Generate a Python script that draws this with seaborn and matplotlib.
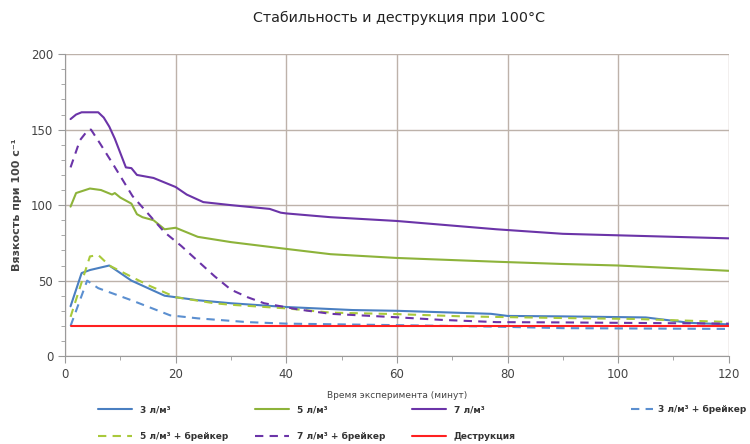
import matplotlib
matplotlib.use("Agg")
import matplotlib.pyplot as plt
from matplotlib.ticker import MultipleLocator
import pandas as pd
import seaborn as sns

# series values
x_3 = [1, 3, 4.5, 8, 12, 18, 24, 30, 40, 52, 60, 77, 80, 90, 105, 113, 120]
y_3 = [33, 55, 57, 60, 50, 40, 37, 35, 32.5, 30.5, 30, 28, 26.6, 26.3, 25.6, 22, 21]

x_5 = [1, 2, 4.5, 6.5, 8.5, 9, 10, 12, 13, 14, 16, 18, 20, 24, 30, 40, 48, 60, 78, 90, 100, 120]
y_5 = [99, 108, 111, 110, 107, 108, 105, 101, 94, 92, 90, 84, 85, 79, 75.5, 71, 67.5, 65, 62.5, 61, 60, 56.5]

x_7 = [1, 2, 3, 6, 7, 8, 9, 11, 12, 13, 16, 20, 22, 25, 30, 37, 39, 40, 48, 60, 78, 90, 100, 120]
y_7 = [157, 160, 161.5, 161.5, 158, 152, 144, 125, 124.5, 120, 118, 112, 107, 102, 100, 97.5, 95, 94.5, 92, 89.5, 84, 81, 80, 78]

x_3b = [1, 4, 6, 12, 19, 24, 33, 40, 60, 78, 90, 120]
y_3b = [20, 50, 45, 37, 27, 25, 22.5, 21.5, 20.5, 19.5, 18.5, 18]

x_5b = [1, 4.5, 6, 8, 15, 20, 27, 30, 40, 48, 60, 72, 90, 103, 120]
y_5b = [26, 66, 67, 60, 47, 39, 35, 34, 31.6, 28.8, 27.8, 26.3, 25.2, 24.6, 22.6]

x_7b = [1, 2.7, 4.2, 4.7, 6.3, 8.7, 12.2, 18, 21, 27, 30, 33, 36, 42, 48, 60, 68, 78, 90, 120]
y_7b = [125, 143, 150, 150, 141, 127, 106, 82, 73, 53, 44, 39, 35, 31, 28, 25.7, 24, 22.5, 22.3, 21.5]

x_destr = [1, 120]
y_destr = [20, 20]

labels = ["3 л/м³", "5 л/м³", "7 л/м³", "3 л/м³ + брейкер",
          "5 л/м³ + брейкер", "7 л/м³ + брейкер", "Деструкция"]

sns.set_style("white")
plt.rcParams["font.family"] = ["DejaVu Sans"]

series = [
    (x_3, y_3, "#4a7fc1", "-"),
    (x_5, y_5, "#8db33a", "-"),
    (x_7, y_7, "#6b34a8", "-"),
    (x_3b, y_3b, "#5b8fd0", (0, (4, 3))),
    (x_5b, y_5b, "#a9c93b", (0, (4, 3))),
    (x_7b, y_7b, "#6b34a8", (0, (4, 3))),
    (x_destr, y_destr, "#ff2020", "-"),
]

fig = plt.figure(figsize=(7.5, 4.44), dpi=100)
ax = fig.add_axes([0.0867, 0.198, 0.885, 0.68])

handles = []
for (xs, ys, color, ls), lab in zip(series, labels):
    df = pd.DataFrame({"x": xs, "y": ys})
    sns.lineplot(data=df, x="x", y="y", ax=ax, color=color, linewidth=1.5)
    line = ax.lines[-1]
    line.set_linestyle(ls)
    line.set_label(lab)
    handles.append(line)
if ax.get_legend() is not None:
    ax.get_legend().remove()

ax.set_xlim(0, 120)
ax.set_ylim(0, 200)
ax.xaxis.set_major_locator(MultipleLocator(20))
ax.xaxis.set_minor_locator(MultipleLocator(10))
ax.yaxis.set_major_locator(MultipleLocator(50))
ax.yaxis.set_minor_locator(MultipleLocator(10))
ax.grid(True, which="major", color="#bdb2aa", linewidth=1.0)
ax.set_axisbelow(True)
for s in ["top", "right"]:
    ax.spines[s].set_visible(False)
for s in ["left", "bottom"]:
    ax.spines[s].set_color("#9a9a9a")
ax.tick_params(which="both", direction="out", color="#9a9a9a", labelsize=8.5,
               labelcolor="#444444", bottom=True, left=True)
ax.tick_params(which="major", length=5)
ax.tick_params(which="minor", length=3)

ax.set_xlabel("Время эксперимента (минут)", fontsize=6.5, color="#444444", labelpad=7)
ax.set_ylabel("Вязкость при 100 с⁻¹", fontsize=8, fontweight="bold", color="#444444")
ax.yaxis.set_label_coords(-0.065, 0.5)
fig.text(0.532, 0.959, "Стабильность и деструкция при 100°C", ha="center", va="center",
         fontsize=10.3, color="#222222")

# legend: six entries in three columns, the fourth entry on its own at the right
order = [0, 4, 1, 5, 2, 6]
leg_props = {"size": 6.5, "weight": "bold"}
fig.legend([handles[i] for i in order], [labels[i] for i in order],
           loc="upper left", bbox_to_anchor=(0.12, 0.106), ncol=3, frameon=False,
           prop=leg_props, handlelength=3.8, columnspacing=3.0,
           labelspacing=1.95, labelcolor="#333333")
fig.legend([handles[3]], [labels[3]],
           loc="upper left", bbox_to_anchor=(0.83, 0.106), frameon=False,
           prop=leg_props, handlelength=2.5, handletextpad=0.5, labelcolor="#333333")

fig.savefig("out.png", dpi=100)
